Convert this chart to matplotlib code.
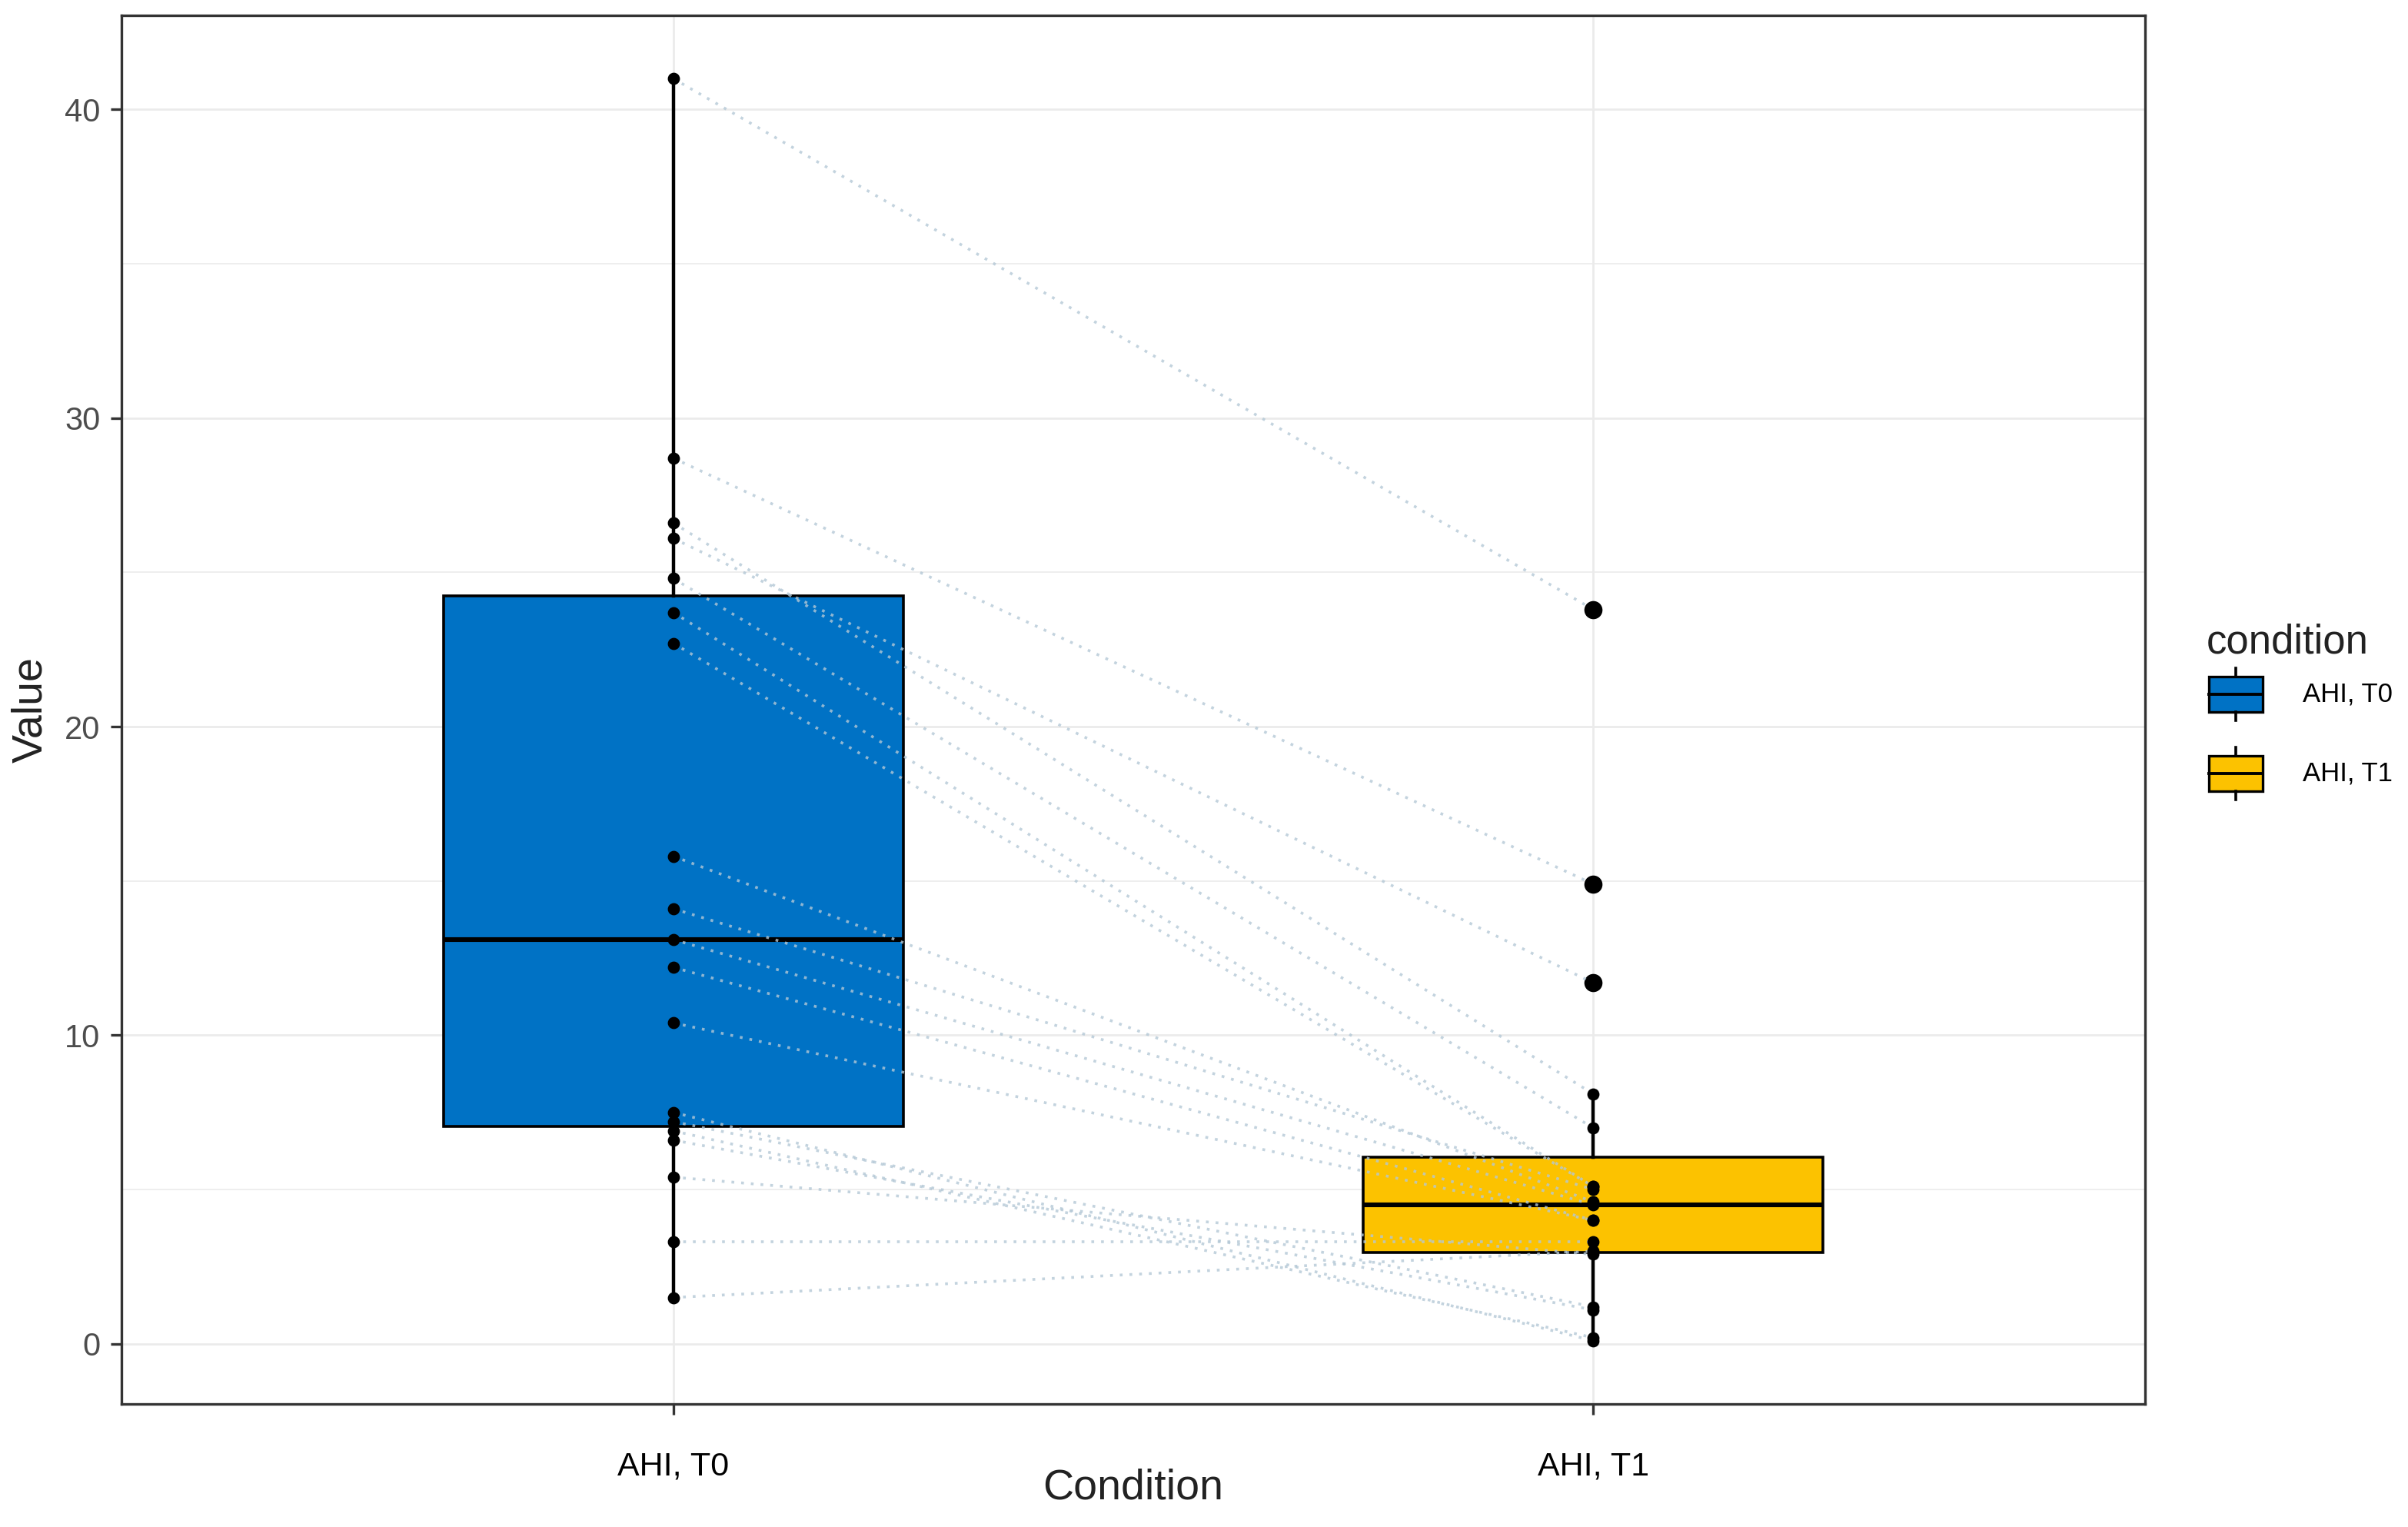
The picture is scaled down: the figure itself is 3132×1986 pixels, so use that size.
import matplotlib.pyplot as plt
from matplotlib.patches import Rectangle

plt.rcParams['font.family'] = ['Liberation Sans', 'DejaVu Sans']

# -------------------------------------------------------
# Data (paired AHI values per subject)
# -------------------------------------------------------
conditions = ["AHI, T0", "AHI, T1"]
colors = ["#0072C5", "#FCC200"]

ahi_t0 = [41.0, 28.7, 26.6, 26.1, 24.8, 23.7, 22.7, 15.8, 14.1, 13.1,
          12.2, 10.4, 7.5, 7.2, 6.9, 6.6, 5.4, 3.3, 1.5]
ahi_t1 = [23.8, 14.9, 8.1, 11.7, 7.0, 5.1, 5.1, 4.6, 5.0, 4.5,
          4.0, 4.0, 0.1, 1.2, 0.2, 1.1, 2.9, 3.3, 3.0]

y_major = [0, 10, 20, 30, 40]
y_minor = [5, 15, 25, 35]

# -------------------------------------------------------
# Figure
# -------------------------------------------------------
W, H = 3132, 1986
fig = plt.figure(figsize=(W / 200, H / 200), dpi=200)
ax = fig.add_axes([158 / W, 1 - 1826 / H, (2790 - 158) / W, (1826 - 20) / H])

positions = [1, 2]

# grid
for y in y_minor:
    ax.axhline(y, color="#EBEBEB", lw=0.6, zorder=0)
for y in y_major:
    ax.axhline(y, color="#EBEBEB", lw=1.0, zorder=0)
for x in positions:
    ax.axvline(x, color="#EBEBEB", lw=1.0, zorder=0)

# boxplots
bp = ax.boxplot([ahi_t0, ahi_t1], positions=positions, widths=0.5,
                patch_artist=True, whis=1.5, showcaps=False,
                boxprops=dict(edgecolor="black", linewidth=1.3),
                whiskerprops=dict(color="black", linewidth=1.6),
                medianprops=dict(color="black", linewidth=2.2),
                flierprops=dict(marker="o", markerfacecolor="black",
                                markeredgecolor="black", markersize=7.5))
for patch, c in zip(bp["boxes"], colors):
    patch.set_facecolor(c)
    patch.set_zorder(2)
for key in ["whiskers", "medians", "fliers"]:
    for art in bp[key]:
        art.set_zorder(2.5)

# paired lines
for a, b in zip(ahi_t0, ahi_t1):
    ax.plot(positions, [a, b], color="#B4C8D6", alpha=0.8, lw=1.3,
            linestyle=(0, (1, 2.5)), zorder=3)

# points
ax.scatter([positions[0]] * len(ahi_t0), ahi_t0, s=22, color="black", zorder=4)
ax.scatter([positions[1]] * len(ahi_t1), ahi_t1, s=22, color="black", zorder=4)

# axes styling
ax.set_xlim(0.4, 2.6)
ax.set_ylim(-1.95, 43.05)
ax.set_yticks(y_major)
ax.set_xticks(positions)
ax.set_xticklabels(conditions)
ax.tick_params(axis="y", labelsize=15, labelcolor="#4D4D4D", length=5,
               width=1.2, color="#333333", pad=5)
ax.tick_params(axis="x", labelsize=15.5, labelcolor="black", length=5,
               width=1.2, color="#333333", pad=17)
for sp in ax.spines.values():
    sp.set_color("#333333")
    sp.set_linewidth(1.2)

ax.set_xlabel("Condition", fontsize=20, color="#222222")
ax.xaxis.set_label_coords(0.5, (1826 - 1936) / 1806)
ax.xaxis.label.set_va("center")
ax.set_ylabel("Value", fontsize=20, color="#222222")
ax.yaxis.set_label_coords((40 - 158) / 2632, 0.5)
ax.yaxis.label.set_va("center")

# -------------------------------------------------------
# Legend (drawn in pixel coordinates)
# -------------------------------------------------------
lg = fig.add_axes([0, 0, 1, 1])
lg.set_xlim(0, W)
lg.set_ylim(H, 0)
lg.axis("off")
lg.text(2870, 836, "condition", fontsize=19, color="#222222", va="center", ha="left")
key_tops = [880, 983]
for lab, c, top in zip(conditions, colors, key_tops):
    lg.add_patch(Rectangle((2873, top), 70, 46, facecolor=c,
                           edgecolor="black", lw=1.2))
    lg.plot([2873, 2943], [top + 23, top + 23], color="black", lw=1.4)
    lg.plot([2908, 2908], [top - 11, top], color="black", lw=1.3)
    lg.plot([2908, 2908], [top + 46, top + 57], color="black", lw=1.3)
    lg.text(2995, top + 23, lab, fontsize=12.5, color="black", va="center", ha="left")

fig.savefig("out.png", dpi=200)
